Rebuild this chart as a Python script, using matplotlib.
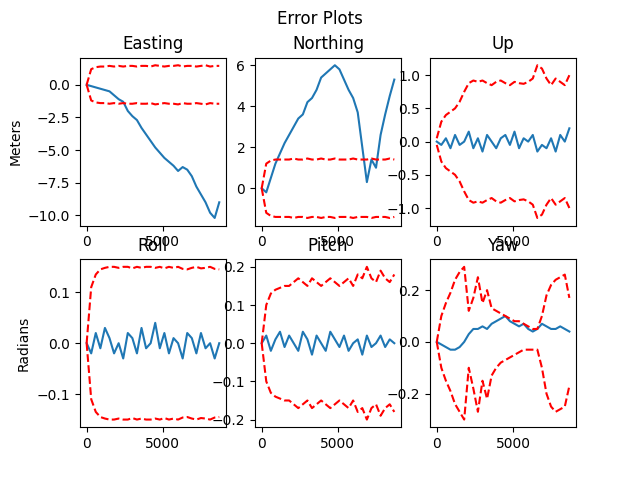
import matplotlib
matplotlib.use('Agg')
import matplotlib.pyplot as plt

t = [0, 300, 600, 900, 1200, 1500, 1800, 2100, 2400, 2700, 3000, 3300, 3600, 3900, 4200,
     4500, 4800, 5100, 5400, 5700, 6000, 6300, 6600, 6900, 7200, 7500, 7800, 8100, 8400, 8700]

east_err = [0.0, -0.1, -0.2, -0.3, -0.4, -0.5, -0.8, -1.1, -1.3, -2.0, -2.4, -2.7, -3.3, -3.8, -4.3,
            -4.8, -5.2, -5.6, -5.9, -6.2, -6.6, -6.3, -6.5, -7.0, -7.8, -8.4, -9.0, -9.8, -10.2, -9.0]
east_bnd = [0.0, 1.2, 1.35, 1.4, 1.4, 1.45, 1.4, 1.45, 1.4, 1.45, 1.45, 1.4, 1.45, 1.45, 1.4,
            1.5, 1.45, 1.4, 1.45, 1.45, 1.5, 1.4, 1.45, 1.45, 1.4, 1.45, 1.5, 1.4, 1.45, 1.45]

north_err = [0.0, -0.2, 0.5, 1.2, 1.7, 2.2, 2.6, 3.0, 3.4, 3.6, 4.2, 4.4, 4.8, 5.4, 5.6,
             5.8, 6.0, 5.8, 5.3, 4.8, 4.4, 3.7, 2.0, 0.3, 1.4, 1.0, 2.6, 3.6, 4.5, 5.3]
north_bnd = [0.0, 1.2, 1.35, 1.4, 1.4, 1.4, 1.4, 1.45, 1.4, 1.4, 1.45, 1.4, 1.4, 1.45, 1.4,
             1.4, 1.45, 1.4, 1.4, 1.4, 1.45, 1.4, 1.4, 1.4, 1.45, 1.4, 1.4, 1.4, 1.45, 1.4]

up_err = [0.0, -0.05, 0.05, -0.1, 0.1, -0.05, 0.0, 0.15, -0.1, 0.05, -0.15, 0.1, 0.0, -0.1, 0.05,
          0.1, -0.05, 0.15, -0.1, 0.05, 0.0, 0.1, -0.15, -0.05, -0.1, 0.05, -0.15, 0.1, 0.0, 0.2]
up_bnd = [0.05, 0.3, 0.4, 0.45, 0.5, 0.6, 0.75, 0.88, 0.92, 0.9, 0.92, 0.88, 0.85, 0.9, 0.92,
          0.88, 0.85, 0.9, 0.88, 0.87, 0.9, 0.95, 1.15, 1.1, 0.95, 0.85, 0.95, 0.9, 0.85, 1.0]

roll_err = [0.0, -0.02, 0.02, -0.01, 0.03, 0.01, -0.02, 0.0, -0.03, 0.02, 0.01, -0.02, 0.03, -0.01, 0.0,
            0.04, -0.01, 0.02, -0.02, 0.01, 0.0, -0.03, 0.02, 0.01, -0.02, 0.02, -0.01, 0.0, -0.03, 0.0]
roll_bnd = [0.0, 0.11, 0.135, 0.145, 0.148, 0.15, 0.15, 0.148, 0.15, 0.15, 0.147, 0.15, 0.148, 0.15, 0.15,
            0.148, 0.15, 0.147, 0.15, 0.148, 0.15, 0.146, 0.145, 0.148, 0.15, 0.147, 0.148, 0.15, 0.146, 0.145]

pitch_err = [0.0, 0.02, -0.02, 0.01, 0.03, -0.01, 0.02, 0.0, -0.02, 0.03, 0.01, -0.03, 0.02, 0.0, -0.02,
             0.03, 0.01, -0.01, 0.02, -0.02, 0.0, 0.01, -0.03, 0.02, -0.01, 0.0, 0.02, -0.01, 0.01, 0.0]
pitch_bnd = [0.0, 0.1, 0.13, 0.14, 0.145, 0.15, 0.15, 0.16, 0.17, 0.16, 0.15, 0.17, 0.16, 0.15, 0.16,
             0.17, 0.16, 0.15, 0.16, 0.17, 0.15, 0.18, 0.17, 0.2, 0.17, 0.16, 0.19, 0.17, 0.16, 0.18]

yaw_err = [0.0, -0.01, -0.02, -0.03, -0.03, -0.02, 0.0, 0.03, 0.05, 0.05, 0.06, 0.05, 0.07, 0.08, 0.09,
           0.1, 0.08, 0.07, 0.06, 0.07, 0.05, 0.04, 0.05, 0.07, 0.06, 0.05, 0.05, 0.06, 0.05, 0.04]
yaw_up = [0.0, 0.1, 0.15, 0.19, 0.24, 0.27, 0.29, 0.12, 0.17, 0.25, 0.15, 0.2, 0.13, 0.12, 0.11,
          0.1, 0.09, 0.08, 0.08, 0.07, 0.06, 0.05, 0.05, 0.1, 0.18, 0.22, 0.24, 0.25, 0.26, 0.17]
yaw_lo = [0.0, -0.1, -0.15, -0.19, -0.24, -0.27, -0.3, -0.1, -0.18, -0.27, -0.15, -0.22, -0.13, -0.1, -0.08,
          -0.07, -0.06, -0.05, -0.04, -0.03, -0.03, -0.03, -0.03, -0.1, -0.2, -0.25, -0.27, -0.26, -0.25, -0.17]

fig, axes = plt.subplots(2, 3, figsize=(6.4, 4.8), dpi=100)
fig.suptitle('Error Plots')

panels = [
    ('Easting', east_err, east_bnd, [-b for b in east_bnd]),
    ('Northing', north_err, north_bnd, [-b for b in north_bnd]),
    ('Up', up_err, up_bnd, [-b for b in up_bnd]),
    ('Roll', roll_err, roll_bnd, [-b for b in roll_bnd]),
    ('Pitch', pitch_err, pitch_bnd, [-b for b in pitch_bnd]),
    ('Yaw', yaw_err, yaw_up, yaw_lo),
]
for ax, (name, err, hi, lo) in zip(axes.flat, panels):
    ax.plot(t, err)
    ax.plot(t, hi, 'r--')
    ax.plot(t, lo, 'r--')
    ax.set_title(name)

axes[0, 0].set_ylabel('Meters')
axes[1, 0].set_ylabel('Radians')
fig.savefig('out.png')
